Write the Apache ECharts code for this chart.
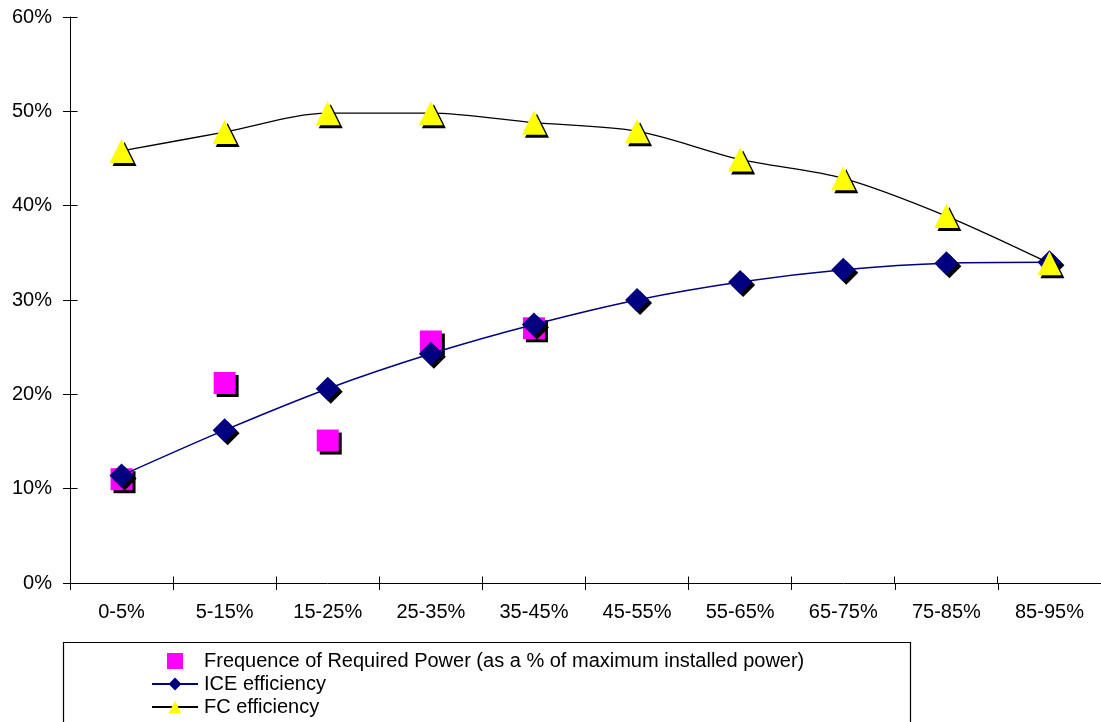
<!DOCTYPE html>
<html>
<head>
<meta charset="utf-8">
<script src="https://cdn.jsdelivr.net/npm/echarts@6/dist/echarts.min.js"></script>
<style>
  html, body { margin: 0; padding: 0; background: #fff; }
  #chart { width: 1101px; height: 722px; }
</style>
</head>
<body>
<div id="chart"></div>
<script>
// Power bands (as % of maximum installed power)
const categories = ['0-5%', '5-15%', '15-25%', '25-35%', '35-45%', '45-55%', '55-65%', '65-75%', '75-85%', '85-95%'];
// Frequence of required power (%), only the first five bands are populated
const frequence = [11.0, 21.2, 15.1, 25.6, 27.0, '-', '-', '-', '-', '-'];
// ICE efficiency (%)
const iceEfficiency = [11.4, 16.2, 20.6, 24.3, 27.4, 30.0, 31.9, 33.2, 33.9, 34.0];
// FC efficiency (%)
const fcEfficiency = [45.8, 47.8, 49.8, 49.8, 48.8, 47.9, 44.9, 42.9, 38.9, 33.9];
// Value axis ticks (%)
const yMin = 0, yMax = 60, yStep = 10;

const FONT = '"Liberation Sans", Arial, sans-serif';
const TICK = 7;
const shadow = { shadowColor: '#000', shadowOffsetX: 3, shadowOffsetY: 3, shadowBlur: 0 };
const legendBox = {
  id: 'legend-box', type: 'rect', z: -1, silent: true,
  shape: { x: 63.5, y: 642.5, width: 847, height: 120 },
  style: { fill: 'none', stroke: '#000', lineWidth: 1.2 }
};

const chart = echarts.init(document.getElementById('chart'), null, { renderer: 'canvas' });

chart.setOption({
  animation: false,
  backgroundColor: '#fff',
  textStyle: { fontFamily: FONT },
  grid: { left: 70, right: -2, top: 17, bottom: 139, containLabel: false },
  xAxis: {
    type: 'category', data: categories, boundaryGap: true,
    axisLine: { lineStyle: { color: '#000', width: 1 } },
    axisTick: { show: true, length: TICK, inside: false, lineStyle: { color: '#000' } },
    axisLabel: { color: '#000', fontSize: 20, fontFamily: FONT, margin: 19, interval: 0 },
    splitLine: { show: false }
  },
  yAxis: {
    type: 'value', min: yMin, max: yMax, interval: yStep,
    axisLine: { show: true, lineStyle: { color: '#000', width: 1 } },
    axisTick: { show: true, length: TICK, inside: false, lineStyle: { color: '#000' } },
    axisLabel: { color: '#000', fontSize: 20, fontFamily: FONT, margin: 18, formatter: '{value}%' },
    splitLine: { show: false }
  },
  legend: {
    orient: 'vertical',
    left: 151, top: 651, height: 120, width: 760,
    itemWidth: 46, itemHeight: 16, itemGap: 3,
    padding: 0,
    symbolKeepAspect: true,
    textStyle: { color: '#000', fontSize: 20, fontFamily: FONT, padding: [0, 0, 0, 1] },
    itemStyle: { shadowColor: 'rgba(0,0,0,0)', shadowBlur: 0, shadowOffsetX: 0, shadowOffsetY: 0 },
    data: [
      { name: 'Frequence of Required Power (as a % of maximum installed power)', icon: 'path://M0,0h10v10h-10z' },
      { name: 'ICE efficiency' },
      { name: 'FC efficiency' }
    ]
  },
  graphic: [legendBox],
  series: [
    {
      name: 'Frequence of Required Power (as a % of maximum installed power)',
      type: 'scatter', z: 2,
      symbol: 'rect', symbolSize: 22,
      itemStyle: Object.assign({ color: '#FF00FF', opacity: 1 }, shadow),
      data: frequence
    },
    {
      name: 'ICE efficiency',
      type: 'line', z: 3,
      smooth: 0.3,
      symbol: 'diamond', symbolSize: 24, showAllSymbol: true,
      lineStyle: { color: '#000080', width: 1.5 },
      itemStyle: Object.assign({ color: '#000080' }, shadow),
      data: iceEfficiency
    },
    {
      name: 'FC efficiency',
      type: 'line', z: 4,
      smooth: 0.3,
      symbol: 'triangle', symbolSize: 24, showAllSymbol: true,
      lineStyle: { color: '#000', width: 1.3 },
      itemStyle: Object.assign({ color: '#FFFF00' }, shadow),
      data: fcEfficiency
    }
  ]
});

// Inner halves of the crossing tick marks, placed with the axes' own scales
const crisp = v => Math.round(v - 0.5) + 0.5;
const xPix = i => chart.convertToPixel({ xAxisIndex: 0 }, i);
const yPix = v => chart.convertToPixel({ yAxisIndex: 0 }, v);
const halfBand = (xPix(1) - xPix(0)) / 2;
const axisY = crisp(yPix(yMin));
const axisX = crisp(xPix(0) - halfBand);
const innerTicks = [];
categories.forEach((c, i) => {
  const x = crisp(xPix(i) - halfBand);
  innerTicks.push({
    id: 'xtick-' + i, type: 'line', silent: true, z: 1,
    shape: { x1: x, y1: axisY - TICK, x2: x, y2: axisY },
    style: { stroke: '#000', lineWidth: 1 }
  });
});
for (let v = yMin, k = 0; v <= yMax; v += yStep, k++) {
  const y = crisp(yPix(v));
  innerTicks.push({
    id: 'ytick-' + k, type: 'line', silent: true, z: 1,
    shape: { x1: axisX, y1: y, x2: axisX + TICK, y2: y },
    style: { stroke: '#000', lineWidth: 1 }
  });
}
chart.setOption({ graphic: [legendBox].concat(innerTicks) });
</script>
</body>
</html>
